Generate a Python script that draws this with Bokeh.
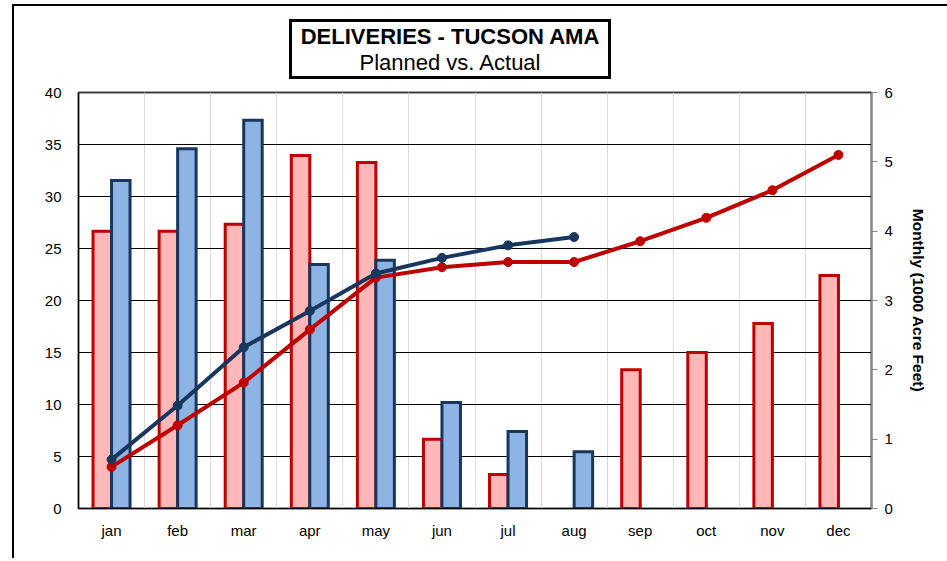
from bokeh.plotting import figure
from bokeh.models import (Range1d, LinearAxis, FixedTicker, ColumnDataSource, Div)
from bokeh.layouts import column
from bokeh.embed import file_html
from bokeh.resources import INLINE

months = ["jan", "feb", "mar", "apr", "may", "jun", "jul", "aug", "sep", "oct", "nov", "dec"]
planned_monthly = [4.0, 4.0, 4.1, 5.09, 4.99, 1.0, 0.49, 0.0, 2.0, 2.25, 2.67, 3.36]
actual_monthly = [4.73, 5.19, 5.6, 3.52, 3.58, 1.53, 1.11, 0.82]
planned_cum = [4.0, 8.0, 12.1, 17.2, 22.2, 23.2, 23.7, 23.7, 25.7, 27.95, 30.6, 34.0]
actual_cum = [4.7, 9.9, 15.5, 19.0, 22.6, 24.1, 25.3, 26.1]
left_ticks = [0, 5, 10, 15, 20, 25, 30, 35, 40]
right_ticks = [0, 1, 2, 3, 4, 5, 6]
title_main = "DELIVERIES - TUCSON AMA"
title_sub = "Planned vs. Actual"

FONT = "Liberation Sans"
RED_LINE = "#C00000"
RED_FILL = "#FFB7B7"
BLUE_LINE = "#17375E"
BLUE_FILL = "#8DB4E2"

centers = [i + 0.5 for i in range(len(months))]
bar_w = 0.28

p = figure(width=928, height=474, output_backend="svg", toolbar_location=None,
           x_range=Range1d(0, len(months)), y_range=Range1d(0, 40),
           min_border_left=64, min_border_right=71, min_border_top=8, min_border_bottom=50)
p.frame_width = 793
p.frame_height = 416
p.background_fill_color = "white"
p.border_fill_color = "white"
p.outline_line_color = "#404040"
p.outline_line_width = 2

p.extra_y_ranges = {"right": Range1d(0, 6)}

# grids
p.ygrid.ticker = FixedTicker(ticks=left_ticks)
p.ygrid.grid_line_color = "black"
p.ygrid.grid_line_width = 1
p.xgrid.ticker = FixedTicker(ticks=list(range(1, len(months))))
p.xgrid.grid_line_color = "#D9D9D9"
p.xgrid.grid_line_width = 1

# left axis
ya = p.yaxis[0]
ya.ticker = FixedTicker(ticks=left_ticks)
ya.major_tick_out = 0
ya.major_tick_in = 0
ya.minor_tick_out = 0
ya.minor_tick_in = 0
ya.major_label_standoff = 17
ya.axis_line_color = "black"
ya.major_label_text_font = FONT
ya.major_label_text_font_size = "15px"
ya.major_label_text_color = "black"

# bottom axis
xa = p.xaxis[0]
xa.ticker = FixedTicker(ticks=centers)
xa.major_label_overrides = {c: m for c, m in zip(centers, months)}
xa.major_tick_out = 0
xa.major_tick_in = 0
xa.minor_tick_out = 0
xa.minor_tick_in = 0
xa.major_label_standoff = 13
xa.axis_line_color = "black"
xa.major_label_text_font = FONT
xa.major_label_text_font_size = "15px"
xa.major_label_text_color = "black"

# right axis
ra = LinearAxis(y_range_name="right", ticker=FixedTicker(ticks=right_ticks),
                axis_label="Monthly (1000 Acre Feet)")
ra.axis_line_color = "#868686"
ra.major_tick_line_color = "#868686"
ra.major_tick_out = 6
ra.major_tick_in = 0
ra.minor_tick_out = 0
ra.minor_tick_in = 0
ra.major_label_standoff = 7
ra.major_label_text_font = FONT
ra.major_label_text_font_size = "15px"
ra.major_label_text_color = "black"
ra.axis_label_text_font = FONT
ra.axis_label_text_font_style = "bold"
ra.axis_label_text_font_size = "15.5px"
ra.axis_label_text_color = "black"
ra.axis_label_standoff = 14
p.add_layout(ra, "right")

# bars (monthly, right axis); months with no delivery get no bar
pm = [(c - bar_w / 2, v) for c, v in zip(centers, planned_monthly) if v > 0]
src_p = ColumnDataSource(dict(x=[a for a, _ in pm], top=[b for _, b in pm]))
src_a = ColumnDataSource(dict(x=[c + bar_w / 2 for c in centers[:len(actual_monthly)]],
                              top=actual_monthly))
p.vbar(x="x", top="top", bottom=0, width=bar_w, source=src_p, y_range_name="right",
       fill_color=RED_FILL, line_color=RED_LINE, line_width=3, line_join="miter")
p.vbar(x="x", top="top", bottom=0, width=bar_w, source=src_a, y_range_name="right",
       fill_color=BLUE_FILL, line_color=BLUE_LINE, line_width=3, line_join="miter")

# cumulative lines (left axis)
p.line(centers, planned_cum, line_color=RED_LINE, line_width=4, line_join="round")
p.scatter(centers, planned_cum, size=9, fill_color=RED_LINE, line_color=RED_LINE)
p.line(centers[:len(actual_cum)], actual_cum, line_color=BLUE_LINE, line_width=4,
       line_join="round")
p.scatter(centers[:len(actual_cum)], actual_cum, size=9, fill_color=BLUE_LINE,
          line_color=BLUE_LINE)

# title box
html = (
    "<div style=\"margin-left:270px; margin-top:8px; width:322px; height:60px; "
    "box-sizing:border-box; border:3px solid black; background:white; "
    "font-family:'Liberation Sans', Arial, sans-serif; text-align:center; color:black;\">"
    "<div style=\"font-weight:bold; font-size:22px; line-height:24px; margin-top:3px;\">"
    + title_main + "</div>"
    "<div style=\"font-size:22px; line-height:24px; margin-top:2px;\">"
    + title_sub + "</div></div>"
)
head = Div(text=html, width=928, height=68, styles={"background": "white"})

layout = column(head, p, spacing=0,
                styles={"border-top": "2px solid black", "border-left": "2px solid black",
                        "border-right": "2px solid black", "margin-left": "12px",
                        "margin-top": "4px", "background": "white"})

open("out.html", "w").write(file_html(layout, INLINE))
